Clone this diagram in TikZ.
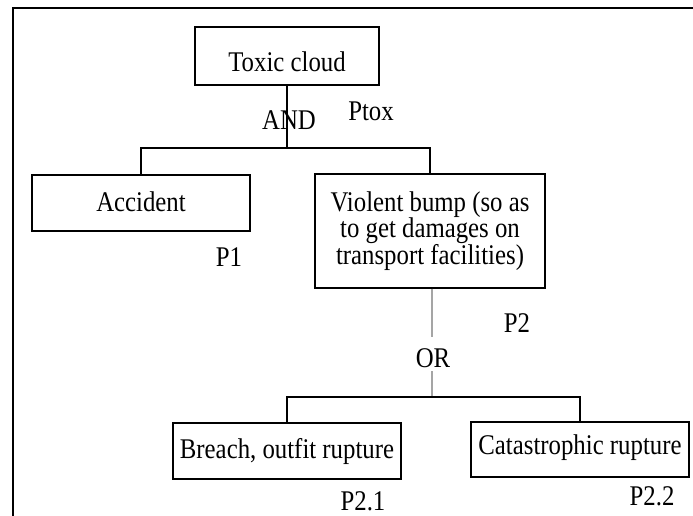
\documentclass[tikz,border=0pt]{standalone}
\usepackage{fontspec}
\setmainfont[FakeStretch=0.87]{Liberation Serif}
\begin{document}
\begin{tikzpicture}[x=1bp,y=-1bp,
  every node/.style={font=\fontsize{28.5bp}{26.5bp}\selectfont},
  evbox/.style={draw, line width=1.1bp, inner sep=0pt, align=center},
  link/.style={line width=1.1bp},
  glink/.style={line width=1.6bp, draw={rgb,255:red,165;green,165;blue,165}},
  plabel/.style={inner sep=0pt}]
\useasboundingbox (0,0) rectangle (693,516);
% frame
\draw[line width=2.2bp] (13,516) -- (13,8) -- (693,8);
% boxes
\node[evbox, minimum width=184bp, minimum height=58bp, text height=32bp, text depth=0bp] (toxic) at (287,56) {Toxic cloud};
\node[evbox, minimum width=218bp, minimum height=56bp, text height=20bp, text depth=2.6bp] (acc) at (141,203) {Accident};
\node[evbox, minimum width=230bp, minimum height=114bp] (vio) at (430,231) {Violent bump (so as\\to get damages on\\transport facilities)};
\node[evbox, minimum width=228bp, minimum height=56bp, text height=20bp, text depth=6bp] (breach) at (287,451) {Breach, outfit rupture};
\node[evbox, minimum width=218bp, minimum height=55bp, text height=20bp, text depth=10bp] (cat) at (580,449.5) {Catastrophic rupture};
% gate coordinates
\coordinate (andbar) at (287,148);
\coordinate (orbar) at (432,397);
\coordinate (orgapA) at (432,337);
\coordinate (orgapB) at (432,371);
% AND gate
\draw[link] (toxic.south) -- (andbar);
\draw[link] (acc.north) |- (andbar) -| (vio.north);
\node[plabel] (and) at (289,120) {AND};
% OR gate
\draw[glink] (vio.south -| orgapA) -- (orgapA);
\draw[glink] (orgapB) -- (orbar);
\node[plabel] (or) at (433,358) {OR};
\draw[link] (breach.north) |- (orbar) -| (cat.north);
% probability labels
\node[plabel] (ptox) at (371,111) {Ptox};
\node[plabel] (p1) at (229,257) {P1};
\node[plabel] (p2) at (517,323) {P2};
\node[plabel] (p21) at (363,501) {P2.1};
\node[plabel] (p22) at (652,496) {P2.2};
\end{tikzpicture}
\end{document}
